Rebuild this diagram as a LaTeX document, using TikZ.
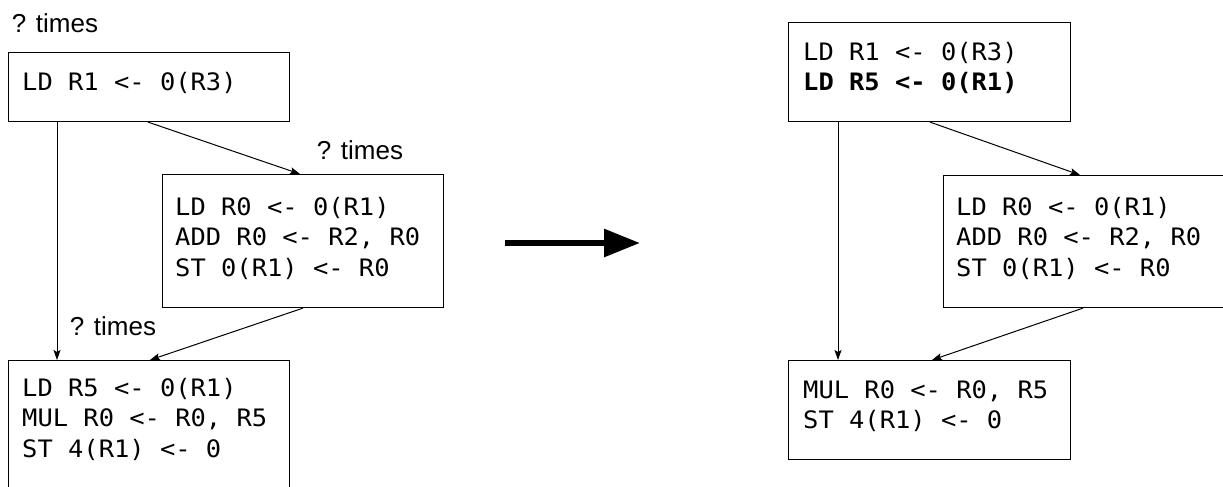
\documentclass[tikz,border=0pt]{standalone}
\usepackage{fontspec}
\setmainfont{Liberation Sans}
\newfontfamily\codefont[FakeStretch=1.06]{DejaVu Sans Mono}
\usetikzlibrary{arrows.meta,calc}
\tikzset{
  blk/.style={draw=black, line width=1.1pt, rectangle, anchor=north west, inner sep=0pt, fill=none},
  code/.style={anchor=west, inner sep=0pt, align=left, font=\codefont\fontsize{24}{30.5}\selectfont},
  lbl/.style={inner sep=0pt, font=\fontsize{26}{30}\selectfont},
  flow/.style={draw=black, line width=1pt, -{Stealth[length=10pt,width=7pt,inset=2pt]}},
  bigarrow/.style={draw=black, line width=6pt, -{Triangle[length=36pt,width=27pt]}}
}
\begin{document}
\begin{tikzpicture}[x=1pt,y=-1pt]
\useasboundingbox (0,0) rectangle (1223,487);
\clip (0,0) rectangle (1223,487);
\fill[white] (0,0) rectangle (1223,487);
% left side
\node[blk, minimum width=281pt, minimum height=69pt] (A) at (8,52) {};
\node[blk, minimum width=281pt, minimum height=133pt] (B) at (162,174) {};
\node[blk, minimum width=281pt, minimum height=200pt] (C) at (8,360) {};
\node[code] (Atext) at ($(A.north west)+(14,31)$) {LD R1 <- 0(R3)};
\node[code] (Btext) at ($(B.north west)+(13,64)$) {LD R0 <- 0(R1)\\ADD R0 <- R2, R0\\ST 0(R1) <- R0};
\node[code] (Ctext) at ($(C.north west)+(14,59)$) {LD R5 <- 0(R1)\\MUL R0 <- R0, R5\\ST 4(R1) <- 0};
\node[lbl] (L1) at (55,23) {? times};
\node[lbl] (L2) at (360,150) {? times};
\node[lbl] (L3) at (113,326) {? times};
\draw[flow] ($(A.south west)+(140,0)$) -- ($(B.north west)+(138,0)$);
\draw[flow] ($(A.south west)+(49,0)$) -- ($(C.north west)+(49,0)$);
\draw[flow] ($(B.south west)+(141,0)$) -- ($(C.north west)+(142,0)$);
% big arrow
\coordinate (S) at (505,243);
\coordinate (T) at (640,243);
\draw[bigarrow] (S) -- (T);
% right side
\node[blk, minimum width=282pt, minimum height=99pt] (A2) at (788,22) {};
\node[blk, minimum width=281pt, minimum height=132pt] (B2) at (943,175) {};
\node[blk, minimum width=282pt, minimum height=99pt] (C2) at (788,360) {};
\node[code] (A2text) at ($(A2.north west)+(15,46)$) {LD R1 <- 0(R3)\\\textbf{LD R5 <- 0(R1)}};
\node[code] (B2text) at ($(B2.north west)+(13,63)$) {LD R0 <- 0(R1)\\ADD R0 <- R2, R0\\ST 0(R1) <- R0};
\node[code] (C2text) at ($(C2.north west)+(15,46)$) {MUL R0 <- R0, R5\\ST 4(R1) <- 0};
\draw[flow] ($(A2.south west)+(142,0)$) -- ($(B2.north west)+(137,0)$);
\draw[flow] ($(A2.south west)+(50,0)$) -- ($(C2.north west)+(50,0)$);
\draw[flow] ($(B2.south west)+(140,0)$) -- ($(C2.north west)+(144,0)$);
\end{tikzpicture}
\end{document}
